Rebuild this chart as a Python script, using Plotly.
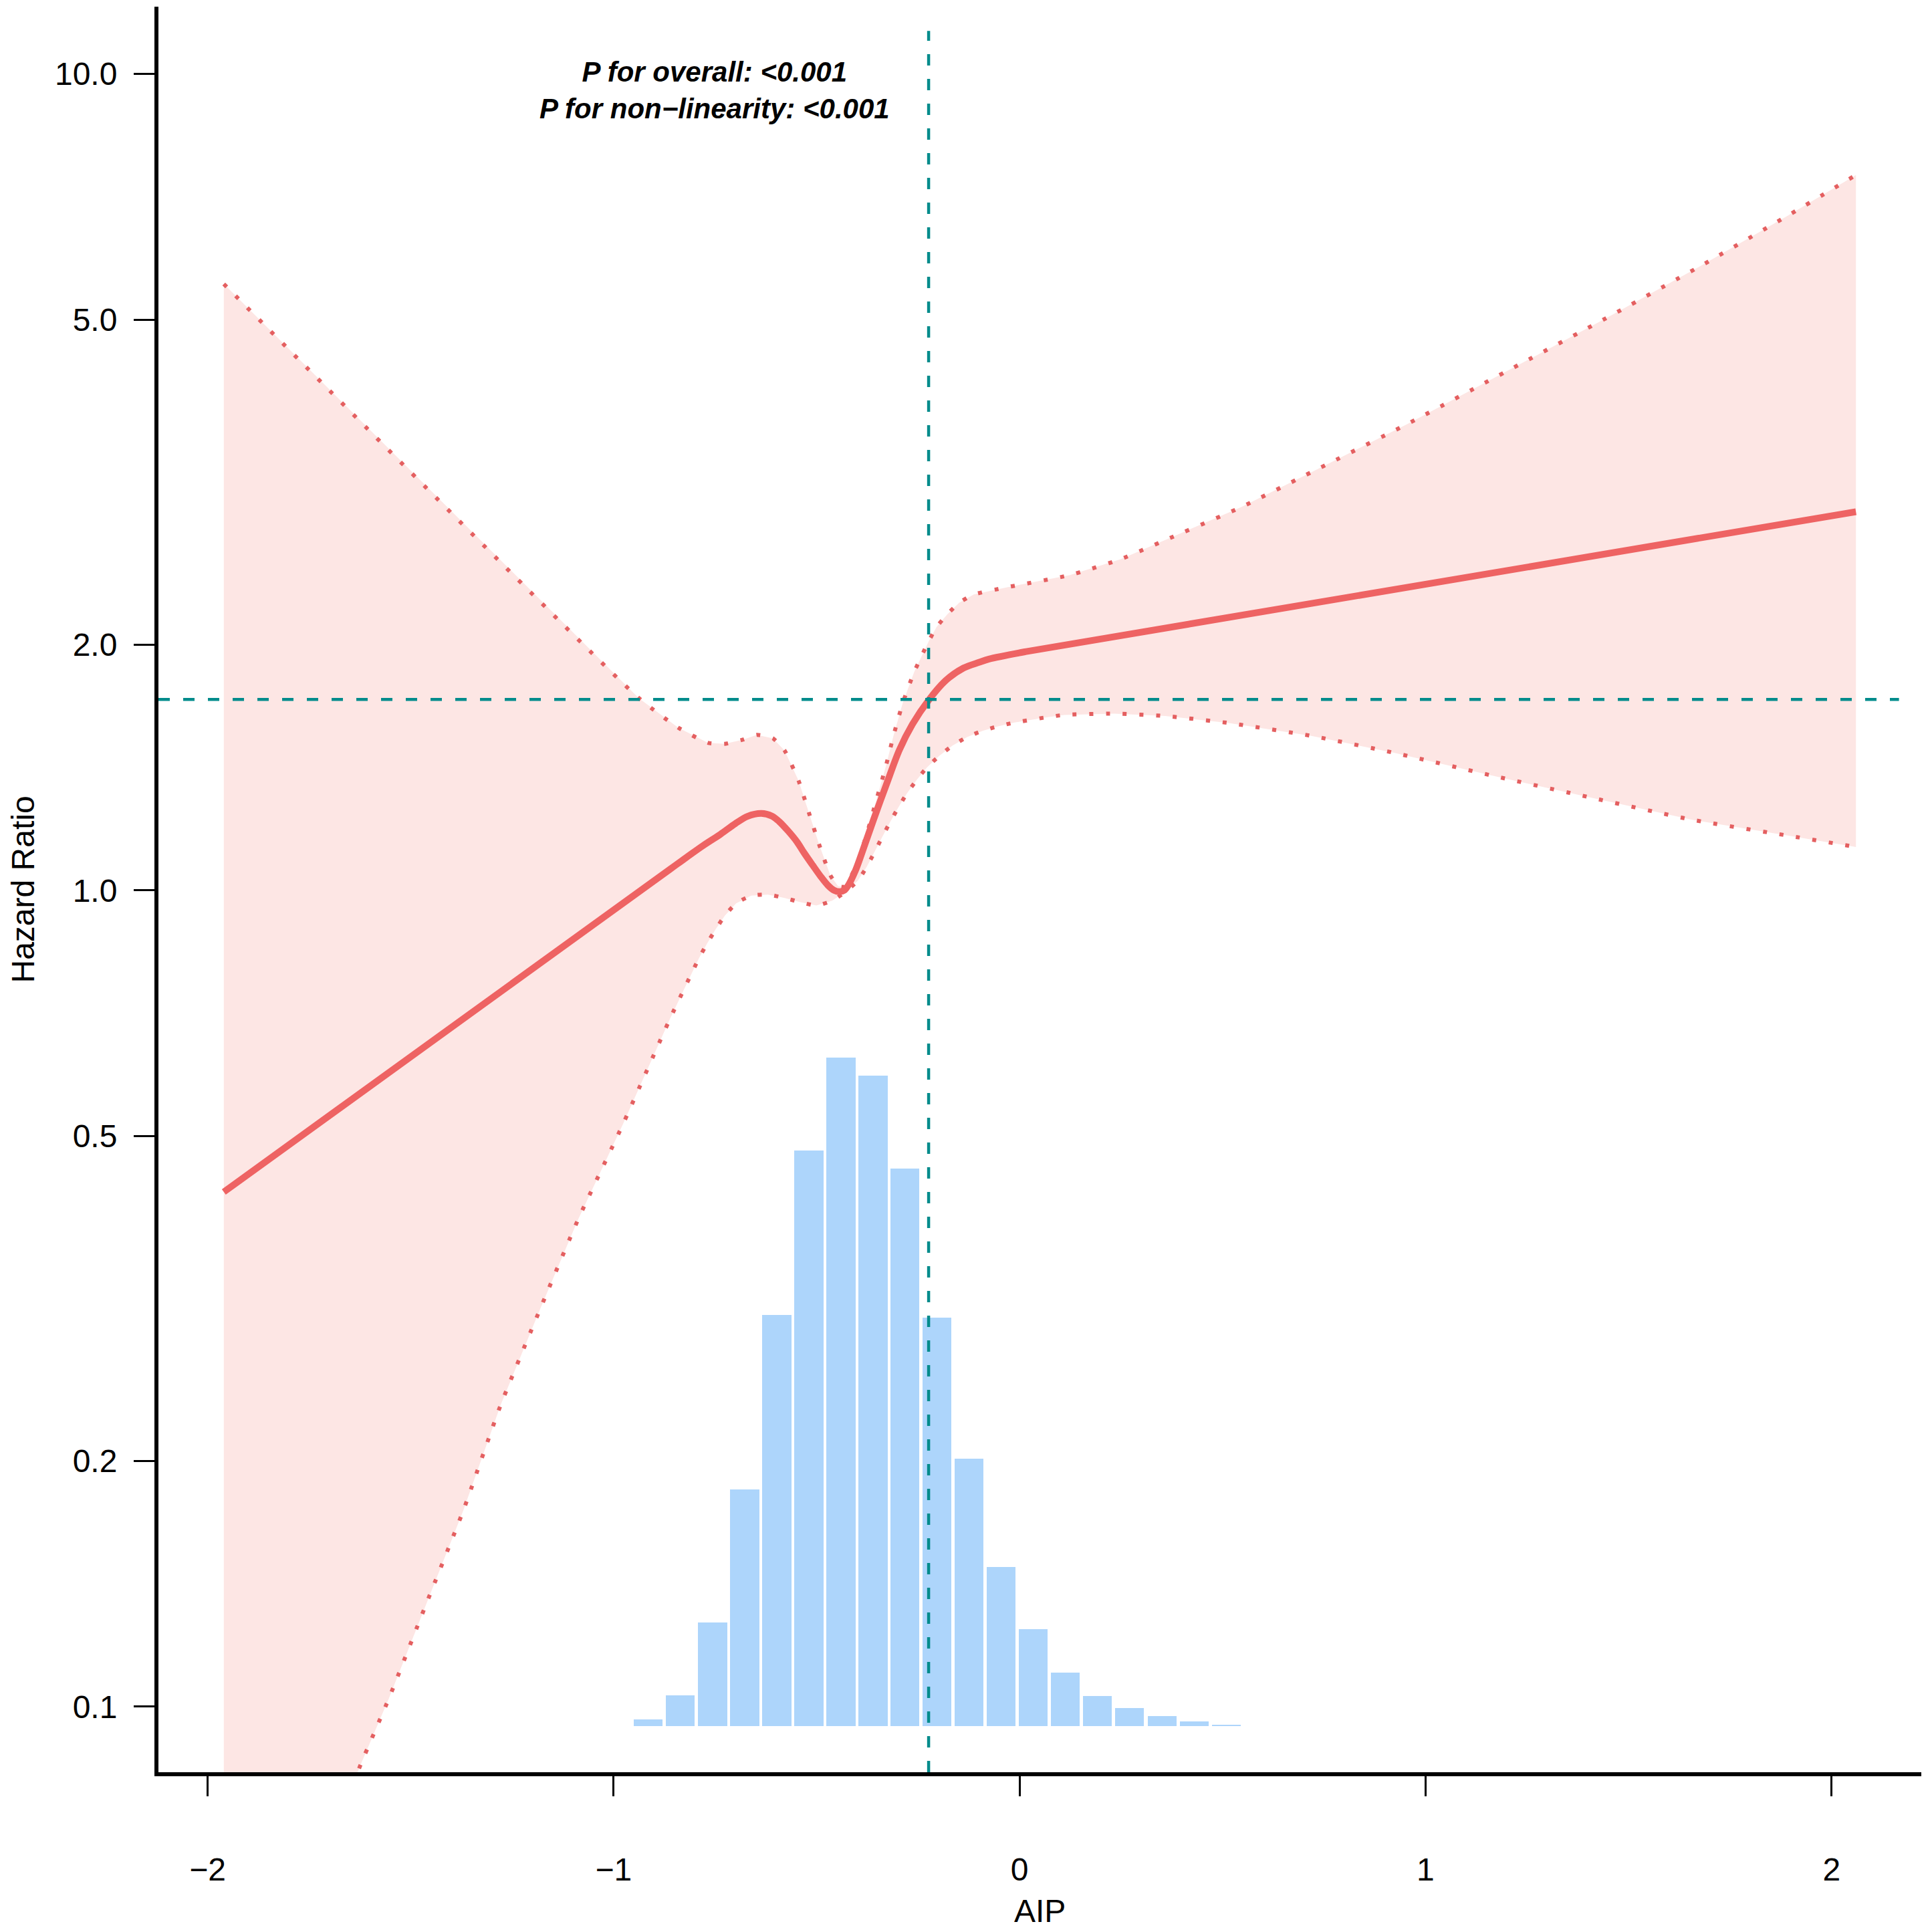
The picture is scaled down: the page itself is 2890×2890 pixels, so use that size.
import numpy as np
import plotly.graph_objects as go

# restricted cubic spline estimate (HR)
curve_x = [-1.96, -0.86, -0.78, -0.737, -0.70, -0.67, -0.636, -0.61, -0.592, -0.57, -0.548,
           -0.53, -0.51, -0.49, -0.472, -0.457, -0.444, -0.432, -0.422, -0.405, -0.39, -0.359,
           -0.327, -0.296, -0.264, -0.2235, -0.1825, -0.138, -0.10, -0.0754, 0.019, 2.06]
curve_hr = [0.427, 1.062, 1.134, 1.171, 1.207, 1.232, 1.242, 1.233, 1.214, 1.182, 1.146,
            1.11, 1.074, 1.04, 1.014, 1.0, 0.996, 1.0, 1.014, 1.055, 1.105, 1.223,
            1.352, 1.486, 1.597, 1.711, 1.806, 1.872, 1.902, 1.92, 1.962, 2.909]

upper_x = [-1.96, -0.938, -0.8407, -0.768, -0.727, -0.68, -0.647, -0.6076, -0.579, -0.5445,
           -0.519, -0.494, -0.466, -0.447, -0.432, -0.419, -0.40, -0.3746, -0.3525, -0.33,
           -0.31, -0.2877, -0.2594, -0.2235, -0.2046, -0.178, -0.149, -0.113, -0.0326, 0.124,
           0.249, 0.3586, 0.546, 0.734, 0.953, 1.203, 1.4378, 1.6725, 1.891, 2.06]
upper_hr = [5.53, 1.72, 1.582, 1.516, 1.511, 1.53, 1.55, 1.535, 1.484, 1.363,
            1.245, 1.139, 1.043, 1.012, 1.01, 1.032, 1.078, 1.18, 1.291, 1.415,
            1.55, 1.696, 1.852, 2.02, 2.101, 2.178, 2.25, 2.303, 2.35, 2.433,
            2.544, 2.685, 2.947, 3.281, 3.721, 4.332, 5.0, 5.8, 6.7, 7.52]

lower_x = [-1.96, -1.623, -1.5535, -1.462, -1.3706, -1.2777, -1.1823, -1.0868, -0.9776, -0.8616,
           -0.79, -0.77, -0.749, -0.726, -0.698, -0.661, -0.62, -0.5806, -0.54, -0.5006,
           -0.4615, -0.43, -0.3985, -0.3766, -0.3576, -0.3387, -0.3198, -0.299, -0.278, -0.2536,
           -0.2278, -0.197, -0.165, -0.129, -0.0912, -0.0515, -0.0125, 0.0695, 0.11, 0.2335,
           0.3586, 0.515, 0.7184, 0.9217, 1.172, 1.4065, 1.6568, 1.891, 2.06]
lower_hr = [0.032, 0.0849, 0.1023, 0.1334, 0.1736, 0.2344, 0.3057, 0.3957, 0.516, 0.695,
            0.825, 0.86, 0.895, 0.931, 0.964, 0.985, 0.988, 0.979, 0.967, 0.958,
            0.971, 0.995, 1.027, 1.068, 1.113, 1.161, 1.21, 1.262, 1.313, 1.365,
            1.415, 1.462, 1.504, 1.541, 1.568, 1.589, 1.605, 1.63, 1.64, 1.646,
            1.635, 1.603, 1.546, 1.474, 1.379, 1.299, 1.22, 1.167, 1.13]

# distribution of AIP (histogram behind the curve)
hist_mid = [-0.915, -0.836, -0.756, -0.677, -0.598, -0.519, -0.440, -0.361, -0.282, -0.203,
            -0.124, -0.045, 0.034, 0.113, 0.192, 0.271, 0.351, 0.430, 0.509]
hist_count = [10, 46, 155, 354, 615, 861, 1000, 973, 834, 611, 400, 238, 145, 80, 45, 27, 15, 7, 2]

ref_aip = -0.224
ref_hr = 1.713

x_ticks = [-2, -1, 0, 1, 2]
y_ticks = [0.1, 0.2, 0.5, 1, 2, 5, 10]
y_ticktext = ["0.1", "0.2", "0.5", "1.0", "2.0", "5.0", "10.0"]

line_col = "#EE6363"
dot_col = "#E45F60"
teal = "#008B8B"
font = "Arial, Liberation Sans, sans-serif"

fig = go.Figure()

fig.add_trace(go.Bar(x=hist_mid, y=hist_count, yaxis="y2", marker=dict(color="#ADD5FB", line=dict(width=0)),
                     width=0.0791 * 0.9, hoverinfo="skip"))

fig.add_trace(go.Scatter(x=upper_x + lower_x[::-1], y=upper_hr + lower_hr[::-1], fill="toself",
                         fillcolor="#FDE6E4", line=dict(width=0), mode="lines", hoverinfo="skip"))
fig.add_trace(go.Scatter(x=upper_x, y=upper_hr, mode="lines", line_shape="spline",
                         line=dict(color=dot_col, width=6, dash="6px,19px", smoothing=0.5)))
fig.add_trace(go.Scatter(x=lower_x, y=lower_hr, mode="lines", line_shape="spline",
                         line=dict(color=dot_col, width=6, dash="6px,19px", smoothing=0.5)))
fig.add_trace(go.Scatter(x=curve_x, y=curve_hr, mode="lines", line_shape="spline",
                         line=dict(color=line_col, width=10, smoothing=0.9)))

fig.add_shape(type="line", xref="x", yref="y", x0=-2.121, x1=2.166, y0=ref_hr, y1=ref_hr,
              line=dict(color=teal, width=4.5, dash="17px,20px"), layer="above")
fig.add_shape(type="line", xref="x", yref="y", x0=ref_aip, x1=ref_aip, y0=0.0831, y1=11.29,
              line=dict(color=teal, width=4.5, dash="17px,20px"), layer="above")

fig.add_annotation(x=-0.751, y=0.9804, xref="x", yref="y",
                   text="P for overall: &lt;0.001<br>P for non\u2212linearity: &lt;0.001",
                   showarrow=False, xanchor="center", yanchor="middle",
                   font=dict(family=font, size=42, color="black", weight="bold", style="italic"))
fig.add_annotation(x=0, y=0.5, xref="paper", yref="paper", xshift=-203, text="Hazard Ratio",
                   textangle=-90, showarrow=False, xanchor="center", yanchor="middle",
                   font=dict(family=font, size=48, color="black"))
fig.add_annotation(x=0.5, y=0, xref="paper", yref="paper", yshift=-207, text="AIP",
                   showarrow=False, xanchor="center", yanchor="middle",
                   font=dict(family=font, size=48, color="black"))

# the page body adds an 8px offset, so the figure is 8px smaller than the window
fig.update_layout(
    width=2882, height=2882,
    margin=dict(l=229, r=16, t=2, b=239, autoexpand=False),
    plot_bgcolor="white", paper_bgcolor="white",
    showlegend=False, bargap=0,
    font=dict(family=font, size=48, color="black"),
    xaxis=dict(range=[-2.121, 2.221], tickvals=x_ticks, showgrid=False, zeroline=False,
               showline=True, linecolor="black", linewidth=6, ticks="outside", ticklen=30,
               tickwidth=3, tickcolor="black", ticklabelstandoff=68),
    yaxis=dict(type="log", range=[np.log10(0.0831), np.log10(12.09)], tickvals=y_ticks,
               ticktext=y_ticktext, showgrid=False, zeroline=False, showline=True,
               linecolor="black", linewidth=6, ticks="outside", ticklen=31, tickwidth=3,
               tickcolor="black", ticklabelstandoff=15),
    yaxis2=dict(overlaying="y", range=[-68.7, 2572.7], visible=False, showgrid=False),
)

fig.write_html("out.html")
